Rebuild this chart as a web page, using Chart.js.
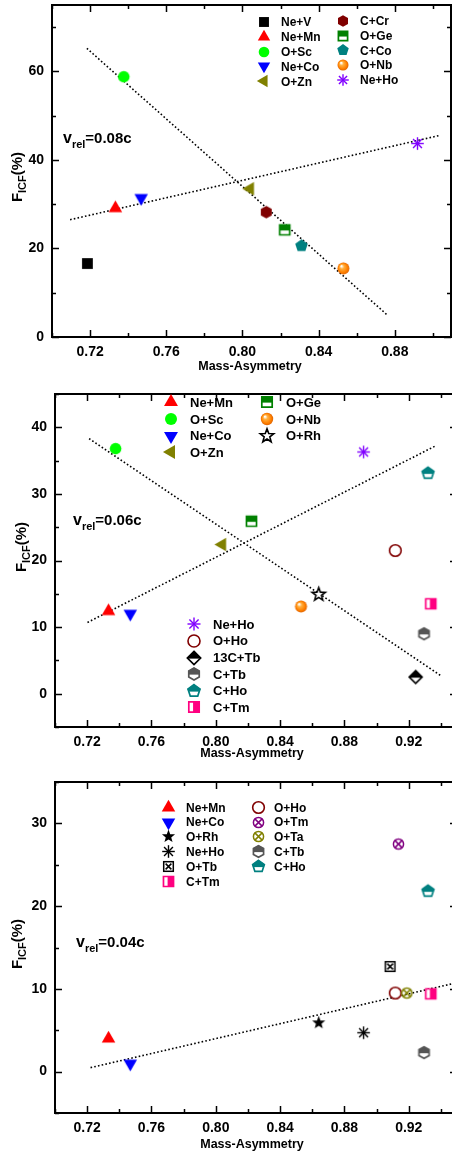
<!DOCTYPE html>
<html>
<head>
<meta charset="utf-8">
<script src="https://cdn.jsdelivr.net/npm/chart.js@4.4.1/dist/chart.umd.min.js"></script>
<style>
html, body { margin: 0; padding: 0; background: #fff; overflow: hidden; }
#wrap { position: relative; width: 452px; height: 1157px; overflow: hidden; }
canvas { position: absolute; left: 0; }
</style>
</head>
<body>
<div id="wrap">
  <canvas id="c08" width="452" height="385" style="top:0px"></canvas>
  <canvas id="c06" width="458" height="385" style="top:385px"></canvas>
  <canvas id="c04" width="458" height="387" style="top:770px"></canvas>
</div>
<script>
// ---- data ----
const xMajor = [0.72, 0.76, 0.80, 0.84, 0.88, 0.92];
const xTickLabels = ['0.72', '0.76', '0.80', '0.84', '0.88', '0.92'];

// v_rel = 0.08c
const names08 = ['Ne+V', 'Ne+Mn', 'O+Sc', 'Ne+Co', 'O+Zn', 'C+Cr', 'O+Ge', 'C+Co', 'O+Nb', 'Ne+Ho'];
const asym08 = [0.7186, 0.7333, 0.7377, 0.7468, 0.8040, 0.8125, 0.8222, 0.8310, 0.8530, 0.8919];
const ficf08 = [16.6, 29.1, 58.8, 31.4, 33.5, 28.2, 24.2, 20.6, 15.5, 43.7];
const fitDownX08 = [0.7183, 0.8757];
const fitDownY08 = [65.2, 5.1];
const fitUpX08 = [0.7095, 0.9032];
const fitUpY08 = [26.5, 45.5];
const yMajor08 = [0, 20, 40, 60];
const yTickLabels08 = ['0', '20', '40', '60'];

// v_rel = 0.06c
const names06 = ['Ne+Mn', 'O+Sc', 'Ne+Co', 'O+Zn', 'O+Ge', 'O+Nb', 'O+Rh', 'Ne+Ho', 'O+Ho', '13C+Tb', 'C+Tb', 'C+Ho', 'C+Tm'];
const asym06 = [0.7333, 0.7377, 0.7468, 0.8040, 0.8222, 0.8530, 0.8640, 0.8919, 0.9116, 0.9243, 0.9295, 0.9320, 0.9337];
const ficf06 = [12.4, 36.8, 12.0, 22.4, 25.9, 13.1, 14.9, 36.3, 21.5, 2.5, 9.0, 33.1, 13.5];
const fitDownX06 = [0.7212, 0.9406];
const fitDownY06 = [38.3, 2.6];
const fitUpX06 = [0.7202, 0.9366];
const fitUpY06 = [10.7, 37.2];
const yMajor06 = [0, 10, 20, 30, 40];
const yTickLabels06 = ['0', '10', '20', '30', '40'];

// v_rel = 0.04c
const names04 = ['Ne+Mn', 'Ne+Co', 'O+Rh', 'Ne+Ho', 'O+Tb', 'O+Ho', 'O+Tm', 'O+Ta', 'C+Tb', 'C+Ho', 'C+Tm'];
const asym04 = [0.7333, 0.7468, 0.8640, 0.8919, 0.9084, 0.9116, 0.9136, 0.9188, 0.9295, 0.9320, 0.9337];
const ficf04 = [4.0, 0.96, 5.9, 4.7, 12.7, 9.5, 27.5, 9.5, 2.3, 21.8, 9.4];
const fitUpX04 = [0.7221, 0.9466];
const fitUpY04 = [0.48, 10.6];
const yMajor04 = [0, 10, 20, 30];
const yTickLabels04 = ['0', '10', '20', '30'];

// ---- marker styles ----
const markerStyle = {
  'Ne+V': ['square', '#000000'],
  'Ne+Mn': ['triUp', '#ff0000'],
  'O+Sc': ['circle', '#00ff00'],
  'Ne+Co': ['triDown', '#0000ff'],
  'O+Zn': ['triLeft', '#808000'],
  'C+Cr': ['hex', '#800000'],
  'O+Ge': ['squareTop', '#008000'],
  'C+Co': ['pent', '#008080'],
  'O+Nb': ['ball', '#ff8000'],
  'Ne+Ho': ['asterisk', '#8000ff'],
  'O+Rh': ['star5Open', '#000000'],
  'O+Ho': ['circleOpen', '#800000'],
  '13C+Tb': ['diamondTop', '#000000'],
  'C+Tb': ['hexTop', '#555555'],
  'C+Ho': ['pentTop', '#008080'],
  'C+Tm': ['squareRight', '#ff0080'],
  'O+Tb': ['boxX', '#000000'],
  'O+Tm': ['circleX', '#800080'],
  'O+Ta': ['circleX', '#808000']
};
const override04 = { 'O+Rh': ['star5', '#000000'], 'Ne+Ho': ['asterisk', '#000000'] };

const FONT = '"Liberation Sans", Arial, sans-serif';
const panelCfg = {};

function poly(g, n, rad, rot) {
  g.beginPath();
  for (let i = 0; i < n; i++) {
    const a = rot + i * 2 * Math.PI / n;
    if (i) g.lineTo(rad * Math.cos(a), rad * Math.sin(a));
    else g.moveTo(rad * Math.cos(a), rad * Math.sin(a));
  }
  g.closePath();
}

function star(g, ro, ri) {
  g.beginPath();
  for (let i = 0; i < 10; i++) {
    const a = -Math.PI / 2 + i * Math.PI / 5;
    const rr = i % 2 ? ri : ro;
    if (i) g.lineTo(rr * Math.cos(a), rr * Math.sin(a));
    else g.moveTo(rr * Math.cos(a), rr * Math.sin(a));
  }
  g.closePath();
}

function shapePath(g, shape, r) {
  switch (shape) {
    case 'square': g.beginPath(); g.rect(-r * 0.9, -r * 0.9, r * 1.8, r * 1.8); break;
    case 'circle': g.beginPath(); g.arc(0, 0, r * 0.97, 0, 2 * Math.PI); break;
    case 'triUp': poly(g, 3, r * 1.3, -Math.PI / 2); break;
    case 'triDown': poly(g, 3, r * 1.3, Math.PI / 2); break;
    case 'triLeft': poly(g, 3, r * 1.3, Math.PI); break;
    case 'hex': poly(g, 6, r * 1.05, -Math.PI / 2); break;
    case 'pent': poly(g, 5, r * 1.1, -Math.PI / 2); break;
    case 'diamond': poly(g, 4, r * 1.15, -Math.PI / 2); break;
    case 'star5': star(g, r * 1.15, r * 0.48); break;
  }
}

const cache = {};
function makeMarker(kind, color, r) {
  const key = kind + color + r;
  if (cache[key]) return cache[key];
  const s = Math.ceil(r * 2.8) + 2;
  const c = document.createElement('canvas');
  c.width = s; c.height = s;
  const g = c.getContext('2d');
  g.translate(s / 2, s / 2);
  g.fillStyle = color; g.strokeStyle = color; g.lineWidth = 1.5;
  if (kind === 'asterisk') {
    g.lineWidth = 1.4;
    for (let k = 0; k < 4; k++) {
      const a = k * Math.PI / 4;
      g.beginPath();
      g.moveTo(-r * 1.05 * Math.cos(a), -r * 1.05 * Math.sin(a));
      g.lineTo(r * 1.05 * Math.cos(a), r * 1.05 * Math.sin(a));
      g.stroke();
    }
  } else if (kind === 'ball') {
    const gr = g.createRadialGradient(-r * 0.35, -r * 0.4, 0.5, 0, 0, r);
    gr.addColorStop(0, '#ffffff');
    gr.addColorStop(0.3, '#ffb040');
    gr.addColorStop(0.75, '#ff8000');
    gr.addColorStop(1, '#e06400');
    g.fillStyle = gr;
    g.beginPath(); g.arc(0, 0, r, 0, 2 * Math.PI); g.fill();
  } else if (kind === 'boxX') {
    const h = r * 0.8;
    g.strokeRect(-h, -h, 2 * h, 2 * h);
    g.beginPath();
    g.moveTo(-h * 0.6, -h * 0.6); g.lineTo(h * 0.6, h * 0.6);
    g.moveTo(h * 0.6, -h * 0.6); g.lineTo(-h * 0.6, h * 0.6);
    g.stroke();
  } else if (kind === 'circleX') {
    g.beginPath(); g.arc(0, 0, r * 0.85, 0, 2 * Math.PI); g.stroke();
    const d = r * 0.6;
    g.beginPath();
    g.moveTo(-d, -d); g.lineTo(d, d);
    g.moveTo(d, -d); g.lineTo(-d, d);
    g.stroke();
  } else {
    const base = kind.replace(/(Top|Right|Open)$/, '');
    shapePath(g, base, r);
    if (kind.endsWith('Open')) {
      g.lineWidth = 1.6;
      g.fillStyle = '#fff'; g.fill(); g.stroke();
    } else if (kind.endsWith('Top') || kind.endsWith('Right')) {
      g.fillStyle = '#fff'; g.fill();
      g.save(); g.clip();
      g.fillStyle = color;
      if (kind.endsWith('Top')) g.fillRect(-s, -s, 2 * s, s + r * 0.1);
      else g.fillRect(-r * 0.15, -s, 2 * s, 2 * s);
      g.restore();
      shapePath(g, base, r * 0.93);
      g.lineWidth = 1.7; g.stroke();
    } else {
      g.fill();
    }
  }
  cache[key] = c;
  return c;
}

function markerFor(name, override, r) {
  const st = (override && override[name]) || markerStyle[name];
  return makeMarker(st[0], st[1], r);
}

function nearList(list, v) {
  return list.findIndex(m => Math.abs(m - v) < 1e-6);
}

// frame with inward ticks on all four sides
const framePlugin = {
  id: 'frame',
  afterDatasetsDraw(chart) {
    const p = panelCfg[chart.canvas.id];
    const { ctx, chartArea: a, scales: { x, y } } = chart;
    ctx.save();
    ctx.strokeStyle = '#000';
    ctx.lineWidth = 1.5;
    ctx.beginPath();
    x.ticks.forEach(t => {
      const q = t.value / 0.02;
      if (Math.abs(q - Math.round(q)) > 1e-6) return;
      const len = nearList(xMajor, t.value) >= 0 ? 7 : 4;
      const px = Math.round(x.getPixelForValue(t.value)) + 0.5;
      ctx.moveTo(px, a.bottom); ctx.lineTo(px, a.bottom - len);
      ctx.moveTo(px, a.top); ctx.lineTo(px, a.top + len);
    });
    y.ticks.forEach(t => {
      const q = t.value / p.yStep;
      if (Math.abs(q - Math.round(q)) > 1e-6) return;
      const len = nearList(p.yMajor, t.value) >= 0 ? 7 : 4;
      const py = Math.round(y.getPixelForValue(t.value)) + 0.5;
      ctx.moveTo(a.left, py); ctx.lineTo(a.left + len, py);
      ctx.moveTo(a.right, py); ctx.lineTo(a.right - len, py);
    });
    ctx.stroke();
    ctx.lineWidth = 2;
    ctx.strokeRect(a.left, a.top, a.right - a.left, a.bottom - a.top);
    ctx.restore();
  }
};

function drawParts(ctx, parts, x, y) {
  let cx = x;
  parts.forEach(([t, sz, dy]) => {
    ctx.font = 'bold ' + sz + 'px ' + FONT;
    ctx.fillText(t, cx, y + dy);
    cx += ctx.measureText(t).width;
  });
  return cx - x;
}

function measureParts(ctx, parts) {
  let w = 0;
  parts.forEach(([t, sz]) => {
    ctx.font = 'bold ' + sz + 'px ' + FONT;
    w += ctx.measureText(t).width;
  });
  return w;
}

// axis titles, v_rel note and the in-plot legends
const annotPlugin = {
  id: 'annot',
  afterDraw(chart) {
    const p = panelCfg[chart.canvas.id];
    const o = p.annot;
    const ctx = chart.ctx;
    ctx.save();
    ctx.fillStyle = '#000';
    ctx.textBaseline = 'alphabetic';
    ctx.textAlign = 'left';
    drawParts(ctx, [['v', 16, 0], ['rel', 11, 5], [o.vrel.text, 15, 0]], o.vrel.x, o.vrel.y);

    ctx.save();
    ctx.translate(o.yTitle.x, o.yTitle.y);
    ctx.rotate(-Math.PI / 2);
    const yParts = [['F', 15, 0], ['ICF', 11, 4], ['(%)', 15, 0]];
    drawParts(ctx, yParts, -measureParts(ctx, yParts) / 2, 0);
    ctx.restore();

    ctx.font = 'bold 12.5px ' + FONT;
    ctx.textAlign = 'center';
    ctx.textBaseline = 'middle';
    ctx.fillText('Mass-Asymmetry', o.xTitle.x, o.xTitle.y);

    ctx.textAlign = 'left';
    ctx.font = 'bold ' + o.legend.font + 'px ' + FONT;
    o.legend.cols.forEach(c => {
      c.names.forEach((n, i) => {
        const yy = c.y0 + i * c.dy;
        const img = markerFor(n, p.override, o.legend.r);
        ctx.drawImage(img, Math.round(c.sx - img.width / 2), Math.round(yy - img.height / 2));
        ctx.fillText(n, c.tx, yy + 1);
      });
    });
    ctx.restore();
  }
};

function buildChart(id, p) {
  panelCfg[id] = p;
  const cv = document.getElementById(id);
  const W = cv.width, H = cv.height;
  const pts = p.x.map((v, i) => ({ x: v, y: p.y[i] }));
  const datasets = [{
    data: pts,
    pointStyle: p.names.map(n => markerFor(n, p.override, p.r)),
    pointRadius: p.r,
    borderWidth: 0,
    backgroundColor: 'transparent'
  }];
  p.fits.forEach(f => datasets.push({
    data: f[0].map((v, i) => ({ x: v, y: f[1][i] })),
    showLine: true,
    borderColor: '#000',
    borderWidth: 1.6,
    borderDash: [1.6, 2.2],
    pointRadius: 0
  }));
  const tickFont = { family: FONT, weight: 'bold', size: 14 };
  return new Chart(cv, {
    type: 'scatter',
    data: { datasets: datasets },
    options: {
      responsive: false,
      animation: false,
      devicePixelRatio: 1,
      // no extra room for point overflow, so the plot box sits exactly where set
      layout: { autoPadding: false, padding: { left: 0, top: p.area.top, right: W - p.area.right, bottom: 0 } },
      plugins: {
        legend: { display: false },
        tooltip: { enabled: false }
      },
      scales: {
        x: {
          type: 'linear', min: p.xMin, max: p.xMax,
          afterFit: s => { s.height = H - p.area.bottom; s.paddingLeft = 0; s.paddingRight = 0; },
          grid: { display: false, drawTicks: false },
          border: { display: false },
          ticks: {
            stepSize: 0.02, includeBounds: false, autoSkip: false, maxRotation: 0,
            padding: 7, color: '#000', font: tickFont,
            callback: v => { const i = nearList(xMajor, v); return i >= 0 ? xTickLabels[i] : ''; }
          }
        },
        y: {
          type: 'linear', min: p.yMin, max: p.yMax,
          afterFit: s => { s.width = p.area.left; s.paddingTop = 0; s.paddingBottom = 0; },
          grid: { display: false, drawTicks: false },
          border: { display: false },
          ticks: {
            stepSize: p.yStep, includeBounds: false, autoSkip: false,
            padding: 8, color: '#000', font: tickFont,
            callback: v => { const i = nearList(p.yMajor, v); return i >= 0 ? p.yLabels[i] : ''; }
          }
        }
      }
    },
    plugins: [framePlugin, annotPlugin]
  });
}

buildChart('c08', {
  names: names08, x: asym08, y: ficf08, r: 6,
  fits: [[fitDownX08, fitDownY08], [fitUpX08, fitUpY08]],
  xMin: 0.70, xMax: 0.9095, yMin: 0, yMax: 75, yStep: 10,
  yMajor: yMajor08, yLabels: yTickLabels08,
  area: { left: 52, top: 5, right: 451, bottom: 337 },
  annot: {
    vrel: { x: 63, y: 143, text: '=0.08c' },
    yTitle: { x: 22, y: 177 },
    xTitle: { x: 250, y: 367 },
    legend: { font: 12, r: 5.5, cols: [
      { sx: 264, tx: 281, y0: 22, dy: 14.8, names: ['Ne+V', 'Ne+Mn', 'O+Sc', 'Ne+Co', 'O+Zn'] },
      { sx: 343, tx: 360, y0: 21, dy: 14.7, names: ['C+Cr', 'O+Ge', 'C+Co', 'O+Nb', 'Ne+Ho'] }
    ] }
  }
});

buildChart('c06', {
  names: names06, x: asym06, y: ficf06, r: 6,
  fits: [[fitDownX06, fitDownY06], [fitUpX06, fitUpY06]],
  xMin: 0.70, xMax: 0.95, yMin: -5, yMax: 45, yStep: 5,
  yMajor: yMajor06, yLabels: yTickLabels06,
  area: { left: 55, top: 9, right: 457, bottom: 342 },
  annot: {
    vrel: { x: 73, y: 140, text: '=0.06c' },
    yTitle: { x: 26, y: 162 },
    xTitle: { x: 252, y: 369 },
    legend: { font: 13, r: 6.2, cols: [
      { sx: 171, tx: 190, y0: 17.3, dy: 16.7, names: ['Ne+Mn', 'O+Sc', 'Ne+Co', 'O+Zn'] },
      { sx: 267, tx: 286, y0: 17.3, dy: 16.7, names: ['O+Ge', 'O+Nb', 'O+Rh'] },
      { sx: 194, tx: 213, y0: 239.3, dy: 16.6, names: ['Ne+Ho', 'O+Ho', '13C+Tb', 'C+Tb', 'C+Ho', 'C+Tm'] }
    ] }
  }
});

buildChart('c04', {
  names: names04, x: asym04, y: ficf04, r: 6, override: override04,
  fits: [[fitUpX04, fitUpY04]],
  xMin: 0.70, xMax: 0.95, yMin: -5, yMax: 35, yStep: 5,
  yMajor: yMajor04, yLabels: yTickLabels04,
  area: { left: 55, top: 12, right: 457, bottom: 343 },
  annot: {
    vrel: { x: 76, y: 177, text: '=0.04c' },
    yTitle: { x: 22, y: 174 },
    xTitle: { x: 252, y: 375 },
    legend: { font: 12, r: 6, cols: [
      { sx: 168, tx: 186, y0: 37.3, dy: 14.8, names: ['Ne+Mn', 'Ne+Co', 'O+Rh', 'Ne+Ho', 'O+Tb', 'C+Tm'] },
      { sx: 258, tx: 274, y0: 37.3, dy: 14.8, names: ['O+Ho', 'O+Tm', 'O+Ta', 'C+Tb', 'C+Ho'] }
    ] }
  }
});
</script>
</body>
</html>
